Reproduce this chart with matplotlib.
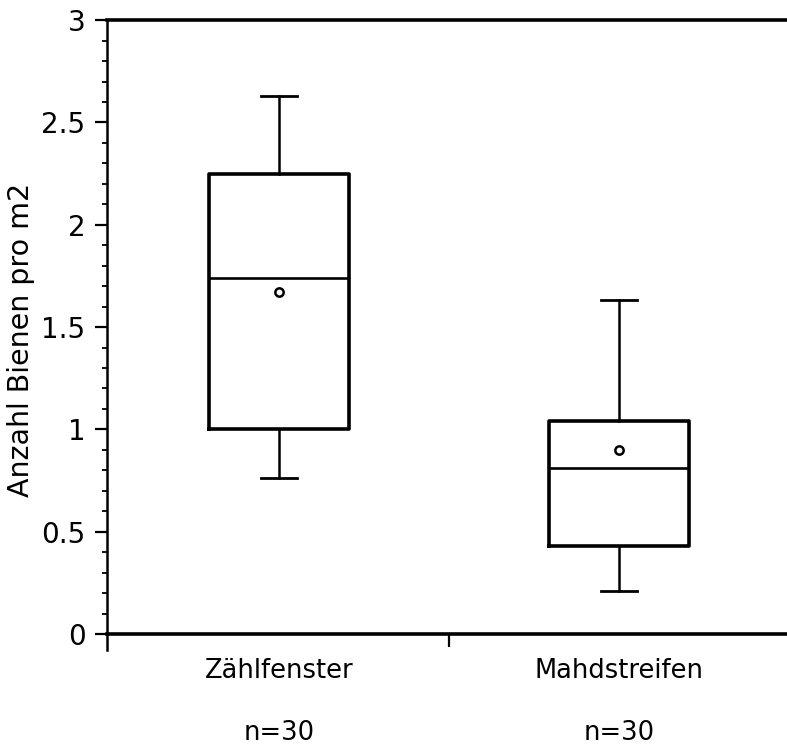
import numpy as np
import matplotlib
matplotlib.use("Agg")
import matplotlib.pyplot as plt
from matplotlib.ticker import MultipleLocator, FixedLocator, NullFormatter, FuncFormatter

# Summary statistics per group (bees per m2)
groups = ["Zählfenster", "Mahdstreifen"]
n_labels = ["n=30", "n=30"]
whis_lo = [0.76, 0.21]
q1 = [1.00, 0.43]
median = [1.74, 0.81]
q3 = [2.25, 1.04]
whis_hi = [2.63, 1.63]
means = [1.67, 0.90]

plt.rcParams["font.family"] = "DejaVu Sans"

fig = plt.figure(figsize=(7.87, 7.45), dpi=100)
ax = fig.add_axes([0.136, 0.149, 0.864, 0.824])

stats = []
for i in range(len(groups)):
    stats.append(dict(label=groups[i], whislo=whis_lo[i], q1=q1[i], med=median[i],
                      q3=q3[i], whishi=whis_hi[i], mean=means[i], fliers=[]))

positions = np.arange(1, len(groups) + 1)
ax.bxp(stats, positions=positions, widths=0.41, capwidths=0.105,
       showmeans=True, showfliers=False,
       boxprops=dict(color="black", linewidth=2.6),
       whiskerprops=dict(color="black", linewidth=1.8),
       capprops=dict(color="black", linewidth=2.0),
       medianprops=dict(color="black", linewidth=1.9),
       meanprops=dict(marker="o", markersize=6, markerfacecolor="white",
                      markeredgecolor="black", markeredgewidth=1.8))

ax.set_xlim(0.494, 2.494)
ax.set_ylim(0, 3)

# y axis: majors every 0.5, minors every 0.1
ax.yaxis.set_major_locator(MultipleLocator(0.5))
ax.yaxis.set_minor_locator(MultipleLocator(0.1))
ax.yaxis.set_major_formatter(FuncFormatter(lambda v, p: "%g" % v))
ax.tick_params(axis="y", which="major", direction="out", length=8.5, width=1.6,
               labelsize=20, pad=7)
ax.tick_params(axis="y", which="minor", direction="out", length=3.5, width=1.3)

# single separator tick between the groups on the x axis
ax.xaxis.set_major_locator(FixedLocator([1.5]))
ax.xaxis.set_major_formatter(NullFormatter())
ax.xaxis.set_minor_locator(FixedLocator([]))
ax.tick_params(axis="x", which="major", direction="out", length=9, width=1.6)

for x, g, n in zip(positions, groups, n_labels):
    ax.text(x, -0.0717, g, transform=ax.get_xaxis_transform(), ha="center",
            va="baseline", fontsize=18.5)
    ax.text(x, -0.1726, n, transform=ax.get_xaxis_transform(), ha="center",
            va="baseline", fontsize=18.5)

ax.set_ylabel("Anzahl Bienen pro m2", fontsize=20.5)
ax.yaxis.set_label_coords(-0.106, 0.479)

ax.spines["right"].set_visible(False)
ax.spines["top"].set_linewidth(2.6)
ax.spines["bottom"].set_linewidth(2.6)
ax.spines["left"].set_linewidth(1.8)
ax.spines["left"].set_bounds(-0.078, 3)

fig.savefig("out.png", dpi=100)
